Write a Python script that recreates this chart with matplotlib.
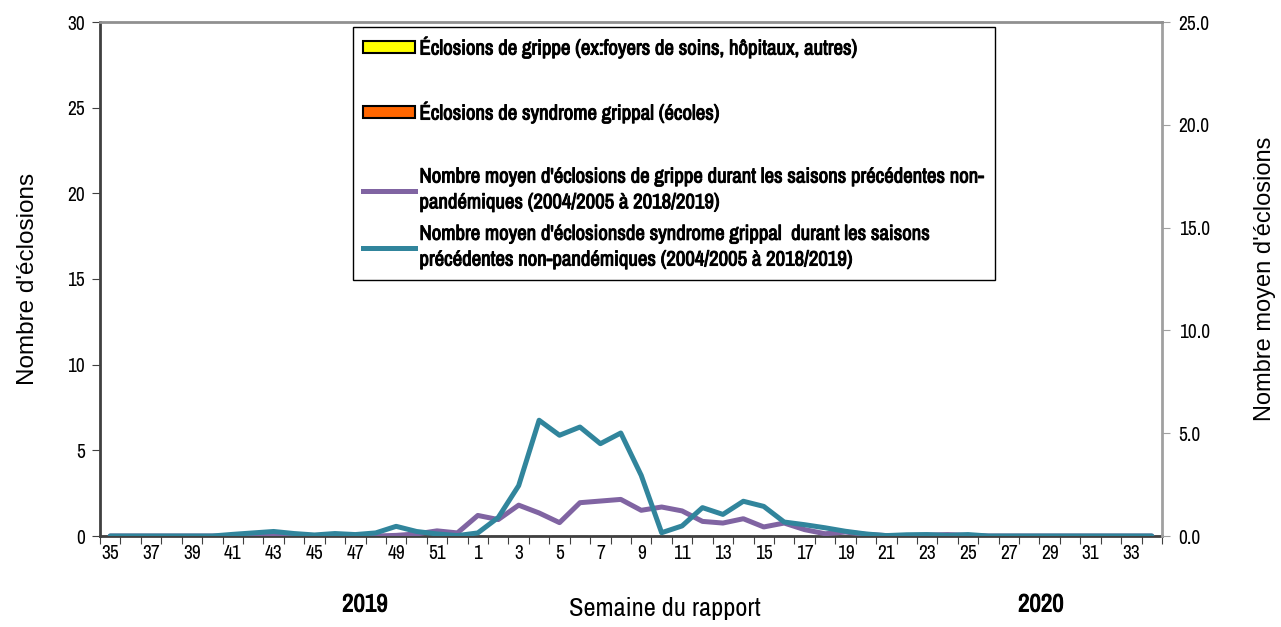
import numpy as np
import matplotlib.pyplot as plt
import matplotlib.patheffects as pe
from matplotlib.patches import Rectangle
from matplotlib.lines import Line2D

narrow = ['Archivo Narrow', 'Liberation Sans', 'DejaVu Sans']
plt.rcParams['font.family'] = narrow
fake_bold = [pe.withStroke(linewidth=0.7, foreground='black')]

# semaines 35-52 (2019) puis 1-34 (2020)
weeks = list(range(35, 53)) + list(range(1, 35))
grippe = [0] * 52            # éclosions de grippe
sg = [0] * 52                # éclosions de syndrome grippal (écoles)
moy_grippe = [0, 0, 0, 0, 0, 0, 0, 0, 0, 0, 0, 0, 0, 0,
              0.03, 0.1, 0.25, 0.15,
              1.0, 0.8, 1.5, 1.12, 0.65, 1.62, 1.70, 1.78, 1.25, 1.41,
              1.22, 0.71, 0.63, 0.84, 0.44, 0.63, 0.31, 0.11, 0.19, 0.08,
              0.02, 0.02, 0.04, 0.07, 0.03,
              0, 0, 0, 0, 0, 0, 0, 0, 0]
moy_sg = [0, 0, 0, 0, 0, 0, 0.08, 0.15, 0.22, 0.12, 0.05, 0.12, 0.07, 0.15,
          0.47, 0.22, 0.1, 0.02,
          0.15, 0.9, 2.45, 5.63, 4.9, 5.3, 4.49, 5.01, 2.95, 0.16,
          0.49, 1.38, 1.05, 1.69, 1.44, 0.68, 0.55, 0.4, 0.23, 0.1,
          0.02, 0.06, 0.07, 0.03, 0.07,
          0, 0, 0, 0, 0, 0, 0, 0, 0]

x = np.arange(len(weeks))

fig = plt.figure(figsize=(12.81, 6.27), dpi=100)
ax = fig.add_axes([100 / 1281, 1 - 536 / 627, 1062 / 1281, 514 / 627])
ax2 = ax.twinx()

ax.bar(x - 0.2, grippe, width=0.4, color='#FFFF00', edgecolor='black')
ax.bar(x + 0.2, sg, width=0.4, color='#FF6600', edgecolor='black')

ax2.plot(x, moy_grippe, color='#8064A2', linewidth=3.6,
         solid_capstyle='round', solid_joinstyle='round')
ax2.plot(x, moy_sg, color='#31859C', linewidth=3.6,
         solid_capstyle='round', solid_joinstyle='round')

ax.set_xlim(-0.5, len(weeks) - 0.5)
ax.set_ylim(0, 30)
ax2.set_ylim(0, 25)
ax.set_yticks(np.arange(0, 31, 5))
ax2.set_yticks(np.arange(0, 26, 5))
ax2.set_yticklabels(['%.1f' % v for v in np.arange(0, 26, 5)])

# ticks between categories, labels every second week
ax.set_xticks(np.arange(-0.5, len(weeks), 1))
ax.set_xticklabels([])
ax.set_xticks(x[::2], minor=True)
ax.set_xticklabels([str(w) for w in weeks[::2]], minor=True)
ax.tick_params(axis='x', which='major', length=6, direction='out', color='#404040')
ax.tick_params(axis='x', which='minor', length=0, pad=6, labelsize=14)
ax.tick_params(axis='y', length=6, direction='out', color='#404040', labelsize=14, pad=5)
ax2.tick_params(axis='y', length=6, direction='out', color='#a0a0a0', labelsize=14, pad=6)

for sp in ['left', 'bottom']:
    ax.spines[sp].set_color('#404040')
    ax.spines[sp].set_linewidth(2)
ax2.spines['left'].set_visible(False)
ax2.spines['bottom'].set_visible(False)
ax2.spines['top'].set_color('#909090')
ax2.spines['top'].set_linewidth(2)
ax2.spines['right'].set_color('#a0a0a0')
ax2.spines['right'].set_linewidth(2)
ax.spines['top'].set_visible(False)
ax.spines['right'].set_visible(False)

ax.set_ylabel("Nombre d'éclosions", family='Liberation Sans', fontsize=17.5, va='center')
ax.yaxis.set_label_coords(-72 / 1062, 0.5)
ax2.set_ylabel("Nombre moyen d'éclosions", family='Liberation Sans', fontsize=17, va='center')
ax2.yaxis.set_label_coords(1 + 103 / 1062, 0.5)
ax.set_xlabel('Semaine du rapport', fontsize=19, va='center')
ax.xaxis.set_label_coords((665 - 100) / 1062, -73 / 514)
for lbl, xp in [('2019', 365), ('2020', 1041)]:
    fig.text(xp / 1281, 1 - 604 / 627, lbl, fontsize=18, ha='center', va='center',
             path_effects=fake_bold)

blank = Line2D([], [], linestyle='none')
handles = [Rectangle((0, 0), 1, 1, facecolor='#FFFF00', edgecolor='black', linewidth=1.5),
           blank,
           Rectangle((0, 0), 1, 1, facecolor='#FF6600', edgecolor='black', linewidth=1.5),
           blank,
           Line2D([], [], color='#8064A2', linewidth=3.6),
           Line2D([], [], color='#31859C', linewidth=3.6)]
labels = ['Éclosions de grippe (ex:foyers de soins, hôpitaux, autres)',
          ' ',
          'Éclosions de syndrome grippal (écoles)',
          ' ',
          "Nombre moyen d'éclosions de grippe durant les saisons précédentes non-\npandémiques (2004/2005 à 2018/2019)",
          "Nombre moyen d'éclosionsde syndrome grippal  durant les saisons\nprécédentes non-pandémiques (2004/2005 à 2018/2019)"]
leg = ax2.legend(handles, labels, loc='upper left', bbox_to_anchor=(0.238, 0.99),
                 fancybox=False, framealpha=1, edgecolor='black', borderpad=0.5,
                 labelspacing=0.6, handlelength=2.5, handleheight=0.55,
                 handletextpad=0.2, borderaxespad=0,
                 prop={'family': narrow, 'size': 15})
leg.get_frame().set_linewidth(1)
for t in leg.get_texts():
    t.set_path_effects(fake_bold)
    t.set_linespacing(1.45)

plt.savefig('out.png', dpi=100)
